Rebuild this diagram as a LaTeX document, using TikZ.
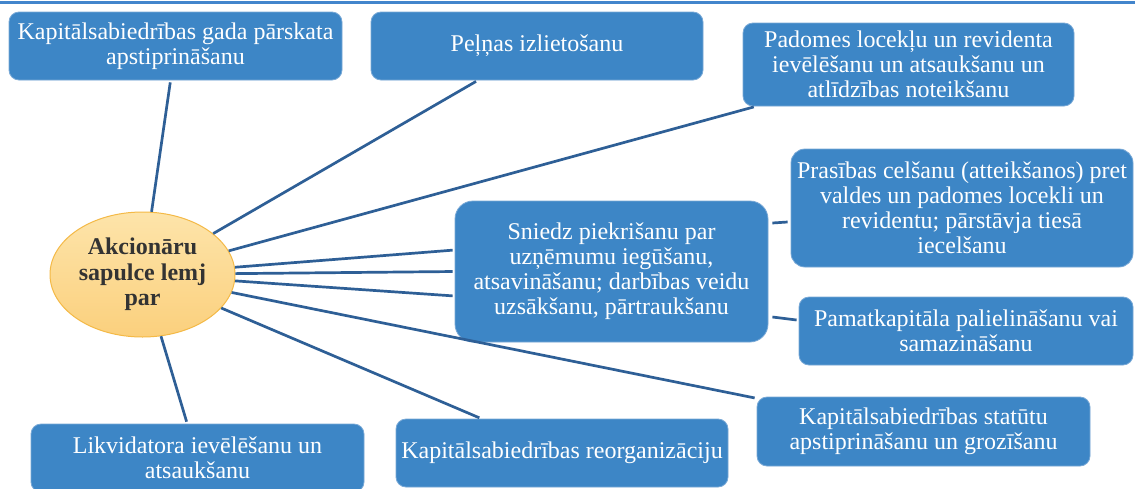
\documentclass[tikz,border=0pt]{standalone}
\usepackage{fontspec}
\setmainfont{Liberation Serif}
\newfontfamily\lserif{Liberation Serif}
\usetikzlibrary{shapes.geometric}
\definecolor{boxblue}{RGB}{61,134,198}
\definecolor{boxedge}{RGB}{120,168,214}
\definecolor{linkblue}{RGB}{46,95,150}
\definecolor{topline}{RGB}{66,133,204}
\definecolor{elltop}{RGB}{253,228,170}
\definecolor{ellbot}{RGB}{251,208,125}
\definecolor{elledge}{RGB}{244,185,70}
\definecolor{elltext}{RGB}{51,51,51}
\begin{document}
\begin{tikzpicture}[x=1pt,y=-1pt,
  box/.style={rectangle, rounded corners=10pt, fill=boxblue, draw=boxedge, line width=0.8pt,
    text=white, align=center, font=\lserif\fontsize{24}{25}\selectfont, inner sep=0pt},
  link/.style={draw=linkblue, line width=2.7pt, shorten >=2pt},
  hub/.style={ellipse, draw=elledge, line width=1pt, top color=elltop, bottom color=ellbot,
    text=elltext, align=center, font=\lserif\fontsize{24}{25.5}\selectfont\bfseries, inner sep=0pt},
]
\useasboundingbox (0,0) rectangle (1135,488);
\clip (0,0) rectangle (1135,488);
\fill[white] (0,0) rectangle (1135,488);
\draw[topline, line width=2.5pt] (0,2.5) -- (1135,2.5);

\node[box, minimum width=333pt, minimum height=68pt] (b1) at (175.5,46)
  {Kapitālsabiedrības gada pārskata\\apstiprināšanu};
\node[box, minimum width=332pt, minimum height=68pt] (b2) at (537,46)
  {Peļņas izlietošanu};
\node[box, minimum width=331pt, minimum height=83pt] (b3) at (908.5,64.5)
  {Padomes locekļu un revidenta\\ievēlēšanu un atsaukšanu un\\atlīdzības noteikšanu};
\node[box, rounded corners=18pt, minimum width=313pt, minimum height=141pt] (snd) at (611.5,271.5)
  {Sniedz piekrišanu par\\uzņēmumu iegūšanu,\\atsavināšanu; darbības veidu\\uzsākšanu, pārtraukšanu};
\node[box, rounded corners=14pt, minimum width=342pt, minimum height=118pt] (pr) at (962,208)
  {Prasības celšanu (atteikšanos) pret\\valdes un padomes locekli un\\revidentu; pārstāvja tiesā\\iecelšanu};
\node[box, minimum width=334pt, minimum height=68pt] (pm) at (966,331)
  {Pamatkapitāla palielināšanu vai\\samazināšanu};
\node[box, minimum width=333pt, minimum height=69pt] (st) at (923.5,431.5)
  {Kapitālsabiedrības statūtu\\apstiprināšanu un grozīšanu};
\node[box, minimum width=332pt, minimum height=68pt] (rg) at (562,453)
  {Kapitālsabiedrības reorganizāciju};
\node[box, minimum width=333pt, minimum height=68pt] (lk) at (197.5,458)
  {Likvidatora ievēlēšanu un\\atsaukšanu};

\node[hub, minimum width=185pt, minimum height=125pt] (ell) at (142.5,274.5)
  {Akcionāru\\sapulce lemj\\par};

\draw[link] (ell) -- (b1);
\draw[link] (ell) -- (b2);
\draw[link] (ell) -- (b3);
\draw[link] (ell) -- ([yshift=21.5pt]snd.west);
\draw[link] (ell) -- (snd.west);
\draw[link] (ell) -- ([yshift=-24.5pt]snd.west);
\draw[link] (ell) -- (st);
\draw[link] (ell) -- (rg);
\draw[link] (ell) -- (lk);
\draw[link, shorten >=0pt] ([xshift=4pt,yshift=48.5pt]snd.east) -- ([xshift=-3pt,yshift=-14pt]pr.west);
\draw[link, shorten >=0pt] ([xshift=4pt,yshift=-45.5pt]snd.east) -- ([xshift=-2pt,yshift=11pt]pm.west);
\end{tikzpicture}
\end{document}
